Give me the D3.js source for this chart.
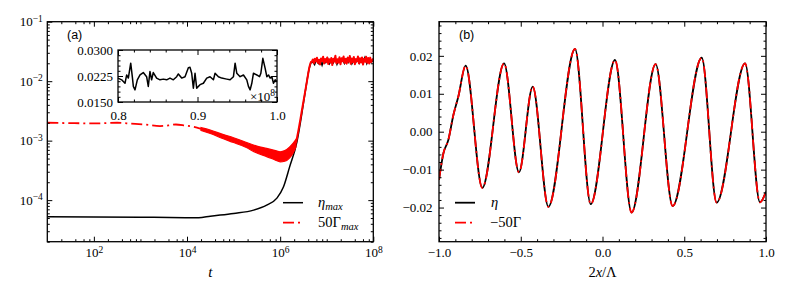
<!DOCTYPE html>
<html>
<head>
<meta charset="utf-8">
<script src="https://cdn.jsdelivr.net/npm/d3@7"></script>
<style>
  body { margin: 0; background: #fff; }
  .tick line { stroke: #000; stroke-width: 1; }
</style>
</head>
<body>
<svg id="chart" width="789" height="296"></svg>
<script>
// ---------- panel (a): eta_max and 50*Gamma_max versus t (log10 t stored) ----------
const etaLogT = [1.0, 2.0, 3.0, 4.0, 4.25, 4.5, 5.0, 5.43, 5.71, 5.93, 6.07, 6.2, 6.36, 6.45, 6.55, 6.62, 6.66];
const etaVal  = [5.25e-5, 5.22e-5, 5.16e-5, 5.07e-5, 5.06e-5, 5.37e-5, 5.97e-5, 6.79e-5, 8.24e-5, 1.08e-4, 1.66e-4, 3.55e-4, 9.55e-4, 2.40e-3, 7.59e-3, 1.58e-2, 2.04e-2];
const etaPlateauLogT = [6.70, 6.74, 6.78, 6.82, 6.86, 6.90, 6.94, 6.98, 7.02, 7.06, 7.10, 7.14, 7.18, 7.22, 7.26, 7.30, 7.34, 7.38, 7.42, 7.46, 7.50, 7.54, 7.58, 7.62, 7.66, 7.70, 7.74, 7.78, 7.82, 7.86, 7.90, 7.94, 8.00];
const etaPlateauVal  = [0.0212, 0.0190, 0.0234, 0.0200, 0.0229, 0.0186, 0.0232, 0.0206, 0.0240, 0.0197, 0.0226, 0.0204, 0.0244, 0.0192, 0.0230, 0.0211, 0.0237, 0.0199, 0.0233, 0.0207, 0.0249, 0.0196, 0.0228, 0.0205, 0.0242, 0.0201, 0.0231, 0.0209, 0.0251, 0.0198, 0.0234, 0.0212, 0.0221];

// 50 Gamma_max: dash-dot early part, oscillating band, then rise + noisy plateau
const gamDashLogT = [1.0, 1.5, 2.0, 2.5, 2.8, 3.1, 3.42, 3.6, 3.76, 3.95, 4.15, 4.3];
const gamDashVal  = [2.00e-3, 1.97e-3, 1.95e-3, 2.00e-3, 1.93e-3, 1.86e-3, 1.76e-3, 1.80e-3, 1.87e-3, 1.80e-3, 1.70e-3, 1.58e-3];
const gamBandLogT = [4.3, 4.5, 4.75, 5.0, 5.25, 5.5, 5.71, 5.9, 6.0, 6.1, 6.2, 6.28, 6.34];
const gamBandLo   = [1.48e-3, 1.32e-3, 1.10e-3, 9.3e-4, 7.8e-4, 6.2e-4, 5.4e-4, 4.7e-4, 4.4e-4, 4.5e-4, 5.1e-4, 6.2e-4, 7.9e-4];
const gamBandHi   = [1.66e-3, 1.51e-3, 1.29e-3, 1.12e-3, 9.5e-4, 8.1e-4, 7.4e-4, 6.8e-4, 6.5e-4, 6.8e-4, 7.8e-4, 9.1e-4, 1.05e-3];
const gamRiseLogT = [6.34, 6.40, 6.46, 6.52, 6.58, 6.63, 6.66];
const gamRiseVal  = [9.1e-4, 1.6e-3, 3.0e-3, 5.6e-3, 1.05e-2, 1.75e-2, 2.1e-2];
const gamPlateauLogT = [6.680, 6.702, 6.724, 6.746, 6.768, 6.790, 6.812, 6.834, 6.856, 6.878, 6.900, 6.922, 6.944, 6.966, 6.988, 7.010, 7.032, 7.054, 7.076, 7.098, 7.120, 7.142, 7.164, 7.186, 7.208, 7.230, 7.252, 7.274, 7.296, 7.318, 7.340, 7.362, 7.384, 7.406, 7.428, 7.450, 7.472, 7.494, 7.516, 7.538, 7.560, 7.582, 7.604, 7.626, 7.648, 7.670, 7.692, 7.714, 7.736, 7.758, 7.780, 7.802, 7.824, 7.846, 7.868, 7.890, 7.912, 7.934, 7.956, 8.000];
const gamPlateauVal  = [0.0212, 0.0232, 0.0200, 0.0238, 0.0214, 0.0247, 0.0203, 0.0230, 0.0191, 0.0241,
                        0.0217, 0.0258, 0.0199, 0.0236, 0.0211, 0.0251, 0.0195, 0.0234, 0.0208, 0.0245,
                        0.0187, 0.0239, 0.0214, 0.0268, 0.0201, 0.0233, 0.0205, 0.0252, 0.0192, 0.0242,
                        0.0216, 0.0260, 0.0203, 0.0237, 0.0197, 0.0249, 0.0212, 0.0264, 0.0196, 0.0240,
                        0.0209, 0.0255, 0.0193, 0.0235, 0.0215, 0.0261, 0.0200, 0.0243, 0.0206, 0.0251,
                        0.0190, 0.0238, 0.0212, 0.0257, 0.0204, 0.0245, 0.0198, 0.0249, 0.0210, 0.0240];

// inset: eta_max for t in [0.8, 1.0] x 1e8
const insetT = [0.800, 0.8046, 0.8088, 0.8109, 0.813, 0.816, 0.818, 0.8193, 0.8214, 0.8243, 0.8277, 0.8318, 0.836, 0.8381, 0.8402, 0.8423, 0.8444, 0.8486, 0.8528, 0.857, 0.8612, 0.8654, 0.8696, 0.8738, 0.8759, 0.8801, 0.8843, 0.8885, 0.8906, 0.8927, 0.8948, 0.8969, 0.899, 0.9032, 0.9074, 0.9116, 0.9158, 0.92, 0.9221, 0.9263, 0.9305, 0.9368, 0.941, 0.9452, 0.9473, 0.9494, 0.9536, 0.9578, 0.962, 0.9641, 0.9662, 0.9683, 0.9704, 0.9746, 0.978, 0.9797, 0.9822, 0.9851, 0.9872, 0.9893, 0.9914, 0.9935, 0.9956, 0.9977, 1.000];
const insetV = [0.0219, 0.0214, 0.0204, 0.0228, 0.0219, 0.0262, 0.0223, 0.0195, 0.0185, 0.0214, 0.0228, 0.0235, 0.0223, 0.0195, 0.0238, 0.0214, 0.0235, 0.0219, 0.0214, 0.0216, 0.0214, 0.0219, 0.0214, 0.0223, 0.0231, 0.0219, 0.0223, 0.0249, 0.0250, 0.0233, 0.0190, 0.0233, 0.0190, 0.0200, 0.0204, 0.0219, 0.0223, 0.0214, 0.0233, 0.0223, 0.0219, 0.0216, 0.0214, 0.0223, 0.0262, 0.0233, 0.0223, 0.0228, 0.0214, 0.0195, 0.0185, 0.0204, 0.0233, 0.0228, 0.0223, 0.0233, 0.0276, 0.0247, 0.0223, 0.0228, 0.0219, 0.0223, 0.0204, 0.0214, 0.0209];

// ---------- panel (b): eta and -50 Gamma versus 2x/Lambda ----------
const waveX = [-1.0, -0.973, -0.943, -0.912, -0.882, -0.837, -0.735, -0.602, -0.511, -0.427, -0.331, -0.168, -0.072, 0.0765, 0.178, 0.325, 0.429, 0.607, 0.698, 0.872, 0.963, 1.0];
const waveY = [-0.0127, -0.0057, -0.0022, 0.0044, 0.0092, 0.0174, -0.0148, 0.018, -0.0107, 0.0119, -0.0198, 0.0218, -0.0191, 0.0189, -0.0213, 0.0178, -0.0196, 0.0195, -0.0187, 0.018, -0.0186, -0.0158];

// ticks
const aXMajor = [1e2, 1e4, 1e6, 1e8];
const aYMajor = [1e-1, 1e-2, 1e-3, 1e-4];
const bXMajor = [-1.0, -0.5, 0.0, 0.5, 1.0];
const bYMajor = [-0.02, -0.01, 0.0, 0.01, 0.02];
const insetXMajor = [0.8, 0.9, 1.0];
const insetYMajor = [0.015, 0.0225, 0.03];

const RED = "#ff0000";
const DASHDOT = "11,4,2,4";
const SERIF = "'Liberation Serif', serif";
const SANS = "'Liberation Sans', Arial, 'DejaVu Sans', sans-serif";

const svg = d3.select("#chart");

// layout
const A = { left: 47.3, top: 21.7, width: 326, height: 220 };
const B = { left: 439, top: 21.7, width: 327, height: 220 };
const I = { left: 118, top: 50, width: 159, height: 52 };

function supLabel(sel, fmtExp) {
  sel.selectAll(".tick text").each(function(d) {
    const t = d3.select(this).text(null);
    t.append("tspan").text("10");
    t.append("tspan").attr("dy", "-0.5em").style("font-size", "9.5px").text(fmtExp(d));
  });
}

function ticksAll(g, x, y, w, h, xMaj, yMaj, xMin, yMin) {
  const rm = s => s.select(".domain").remove();
  const tiny = s => s.selectAll("text").remove();
  g.append("g").attr("transform", `translate(0,${h})`)
    .call(d3.axisBottom(x).tickValues(xMin).tickSize(-2.5).tickFormat("")).call(rm).call(tiny);
  g.append("g").call(d3.axisTop(x).tickValues(xMin).tickSize(-2.5).tickFormat("")).call(rm).call(tiny);
  g.append("g").call(d3.axisLeft(y).tickValues(yMin).tickSize(-2.5).tickFormat("")).call(rm).call(tiny);
  g.append("g").attr("transform", `translate(${w},0)`)
    .call(d3.axisRight(y).tickValues(yMin).tickSize(-2.5).tickFormat("")).call(rm).call(tiny);
  g.append("g").call(d3.axisTop(x).tickValues(xMaj).tickSize(-5).tickFormat("")).call(rm).call(tiny);
  g.append("g").attr("transform", `translate(${w},0)`)
    .call(d3.axisRight(y).tickValues(yMaj).tickSize(-5).tickFormat("")).call(rm).call(tiny);
}

// ================= panel (a) =================
const ga = svg.append("g").attr("transform", `translate(${A.left},${A.top})`);
const xa = d3.scaleLog().domain([10, 1e8]).range([0, A.width]);
const ya = d3.scaleLog().domain([2e-5, 0.1]).range([A.height, 0]);

svg.append("clipPath").attr("id", "clipA").append("rect").attr("width", A.width).attr("height", A.height);

const aXMinor = [];
[1, 2, 3, 4, 5, 6, 7].forEach(e => [2, 4, 6, 8].forEach(m => aXMinor.push(m * 10 ** e)));
[1e3, 1e5, 1e7].forEach(v => aXMinor.push(v));
const aYMinor = [];
[-5, -4, -3, -2].forEach(e => [2, 3, 4, 5, 6, 7, 8, 9].forEach(m => { const v = m * 10 ** e; if (v >= 2e-5) aYMinor.push(v); }));

const lineA = d3.line().x(d => xa(10 ** d[0])).y(d => ya(d[1])).curve(d3.curveMonotoneX);
const linePlain = d3.line().x(d => xa(10 ** d[0])).y(d => ya(d[1]));

const plotA = ga.append("g").attr("clip-path", "url(#clipA)");

// eta_max (black)
plotA.append("path")
  .attr("d", lineA(etaLogT.map((t, i) => [t, etaVal[i]])) + linePlain(etaPlateauLogT.map((t, i) => [t, etaPlateauVal[i]])).replace("M", "L"))
  .attr("fill", "none").attr("stroke", "#000").attr("stroke-width", 1.5);

// 50 Gamma_max (red)
plotA.append("path")
  .attr("d", lineA(gamDashLogT.map((t, i) => [t, gamDashVal[i]])))
  .attr("fill", "none").attr("stroke", RED).attr("stroke-width", 1.8).attr("stroke-dasharray", DASHDOT);
plotA.append("path")
  .attr("d", d3.area().x(i => xa(10 ** gamBandLogT[i])).y0(i => ya(gamBandLo[i])).y1(i => ya(gamBandHi[i]))
    .curve(d3.curveMonotoneX)(d3.range(gamBandLogT.length)))
  .attr("fill", RED).attr("stroke", RED).attr("stroke-width", 1.2);
plotA.append("path")
  .attr("d", lineA(gamRiseLogT.map((t, i) => [t, gamRiseVal[i]])) + linePlain(gamPlateauLogT.map((t, i) => [t, gamPlateauVal[i]])).replace("M", "L"))
  .attr("fill", "none").attr("stroke", RED).attr("stroke-width", 2).attr("stroke-linejoin", "round");

// axes (a)
ga.append("g").attr("transform", `translate(0,${A.height})`)
  .call(d3.axisBottom(xa).tickValues(aXMajor).tickSize(-5).tickPadding(6.5))
  .call(s => s.select(".domain").remove())
  .call(s => supLabel(s, d => String(Math.round(Math.log10(d)))));
ga.append("g")
  .call(d3.axisLeft(ya).tickValues(aYMajor).tickSize(-5).tickPadding(4.5))
  .call(s => s.select(".domain").remove())
  .call(s => supLabel(s, d => "\u2212" + Math.round(-Math.log10(d))));
ticksAll(ga, xa, ya, A.width, A.height, aXMajor, aYMajor, aXMinor, aYMinor);
ga.append("rect").attr("width", A.width).attr("height", A.height)
  .attr("fill", "none").attr("stroke", "#000").attr("stroke-width", 1.3);

svg.append("text").attr("class", "sans").attr("x", 67).attr("y", 38.5).text("(a)");
svg.append("text").attr("x", A.left + A.width / 2).attr("y", 277).attr("text-anchor", "middle")
  .style("font-size", "15px").style("font-style", "italic").text("t");

// legend (a)
const legA = svg.append("g");
legA.append("line").attr("x1", 283).attr("x2", 303).attr("y1", 202.7).attr("y2", 202.7)
  .attr("stroke", "#000").attr("stroke-width", 1.5);
legA.append("line").attr("x1", 283).attr("x2", 303).attr("y1", 222.7).attr("y2", 222.7)
  .attr("stroke", RED).attr("stroke-width", 1.8).attr("stroke-dasharray", DASHDOT);
const la1 = legA.append("text").attr("x", 318).attr("y", 206.5).style("font-size", "14.5px");
la1.append("tspan").style("font-style", "italic").text("\u03B7");
la1.append("tspan").style("font-style", "italic").style("font-size", "10.5px").attr("dy", 3).text("max");
const la2 = legA.append("text").attr("x", 318).attr("y", 227).style("font-size", "14.5px");
la2.append("tspan").text("50\u0393");
la2.append("tspan").style("font-style", "italic").style("font-size", "10.5px").attr("dy", 3).text("max");

// inset
const gi = svg.append("g").attr("transform", `translate(${I.left},${I.top})`);
const xi = d3.scaleLinear().domain([0.8, 1.0]).range([0, I.width]);
const yi = d3.scaleLinear().domain([0.015, 0.03]).range([I.height, 0]);
gi.append("rect").attr("width", I.width).attr("height", I.height).attr("fill", "#fff");
const iXMinor = [0.82, 0.84, 0.86, 0.88, 0.92, 0.94, 0.96, 0.98];
const iYMinor = [0.0165, 0.018, 0.0195, 0.021, 0.024, 0.0255, 0.027, 0.0285];
gi.append("path")
  .attr("d", d3.line().x((d, i) => xi(insetT[i])).y(d => yi(d))(insetV))
  .attr("fill", "none").attr("stroke", "#000").attr("stroke-width", 1.5).attr("stroke-linejoin", "round");
gi.append("g").attr("transform", `translate(0,${I.height})`)
  .call(d3.axisBottom(xi).tickValues(insetXMajor).tickSize(-5).tickPadding(9).tickFormat(d3.format(".1f")))
  .call(s => s.select(".domain").remove());
gi.append("g")
  .call(d3.axisLeft(yi).tickValues(insetYMajor).tickSize(-5).tickPadding(5).tickFormat(d3.format(".4f")))
  .call(s => s.select(".domain").remove());
ticksAll(gi, xi, yi, I.width, I.height, insetXMajor, insetYMajor, iXMinor, iYMinor);
gi.append("rect").attr("width", I.width).attr("height", I.height)
  .attr("fill", "none").attr("stroke", "#000").attr("stroke-width", 1.3);
const off = gi.append("text").attr("x", I.width - 2).attr("y", I.height - 1.5).attr("text-anchor", "end");
off.append("tspan").text("\u00D710");
off.append("tspan").attr("dy", "-0.5em").style("font-size", "9.5px").text("8");

// ================= panel (b) =================
const gb = svg.append("g").attr("transform", `translate(${B.left},${B.top})`);
const xb = d3.scaleLinear().domain([-1, 1]).range([0, B.width]);
const yb = d3.scaleLinear().domain([-0.029, 0.029]).range([B.height, 0]);
svg.append("clipPath").attr("id", "clipB").append("rect").attr("width", B.width).attr("height", B.height);

const bXMinor = d3.range(-9, 10).filter(k => k % 5 !== 0).map(k => k / 10);
const bYMinor = d3.range(-14, 15).filter(k => k % 5 !== 0).map(k => k * 0.002);

const waveLine = d3.line().x((d, i) => xb(waveX[i])).y(d => yb(d)).curve(d3.curveMonotoneX);
const plotB = gb.append("g").attr("clip-path", "url(#clipB)");
plotB.append("path").attr("d", waveLine(waveY))
  .attr("fill", "none").attr("stroke", "#000").attr("stroke-width", 1.8);
plotB.append("path").attr("d", waveLine(waveY))
  .attr("fill", "none").attr("stroke", RED).attr("stroke-width", 1.8).attr("stroke-dasharray", DASHDOT);

gb.append("g").attr("transform", `translate(0,${B.height})`)
  .call(d3.axisBottom(xb).tickValues(bXMajor).tickSize(-5).tickPadding(6.5).tickFormat(d3.format(".1f")))
  .call(s => s.select(".domain").remove());
gb.append("g")
  .call(d3.axisLeft(yb).tickValues(bYMajor).tickSize(-5).tickPadding(6.5).tickFormat(d3.format(".2f")))
  .call(s => s.select(".domain").remove());
ticksAll(gb, xb, yb, B.width, B.height, bXMajor, bYMajor, bXMinor, bYMinor);
gb.append("rect").attr("width", B.width).attr("height", B.height)
  .attr("fill", "none").attr("stroke", "#000").attr("stroke-width", 1.3);

svg.append("text").attr("class", "sans").attr("x", 459).attr("y", 38.5).text("(b)");
const xlb = svg.append("text").attr("x", B.left + B.width / 2).attr("y", 277)
  .attr("text-anchor", "middle").style("font-size", "14.5px");
xlb.append("tspan").text("2");
xlb.append("tspan").style("font-style", "italic").text("x");
xlb.append("tspan").text("/\u039B");

// legend (b)
const legB = svg.append("g");
legB.append("line").attr("x1", 455).attr("x2", 475).attr("y1", 202.7).attr("y2", 202.7)
  .attr("stroke", "#000").attr("stroke-width", 1.8);
legB.append("line").attr("x1", 455).attr("x2", 475).attr("y1", 222.7).attr("y2", 222.7)
  .attr("stroke", RED).attr("stroke-width", 1.8).attr("stroke-dasharray", DASHDOT);
legB.append("text").attr("x", 491).attr("y", 206.5).style("font-size", "14.5px")
  .style("font-style", "italic").text("\u03B7");
legB.append("text").attr("x", 490).attr("y", 227).style("font-size", "14.5px").text("\u221250\u0393");

// fonts: serif for everything, sans for the panel tags
svg.selectAll("text").style("font-family", SERIF).style("fill", "#000");
svg.selectAll(".tick text").style("font-size", "13px");
svg.selectAll("text.sans").style("font-family", SANS).style("font-size", "12.5px");
off.style("font-size", "13px");
</script>
</body>
</html>
